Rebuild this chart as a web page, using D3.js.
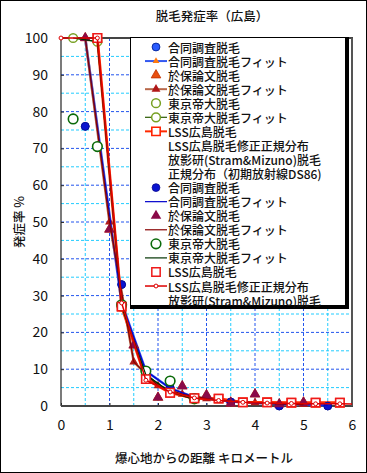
<!DOCTYPE html>
<html>
<head>
<meta charset="utf-8">
<script src="https://cdn.jsdelivr.net/npm/d3@7"></script>
<style>
  body { margin: 0; background: #fff; }
  text { font-family: "Noto Sans CJK JP", "Noto Sans", sans-serif; fill: #111; }
</style>
</head>
<body>
<div id="chart"></div>
<script>
// ---- data ----
const xTicks = [0, 1, 2, 3, 4, 5, 6];
const yTicks = [0, 10, 20, 30, 40, 50, 60, 70, 80, 90, 100];
const xMinor = [0.5, 1.5, 2.5, 3.5, 4.5, 5.5];
const yMinor = [5, 15, 25, 35, 45, 55, 65, 75, 85, 95];

// 合同調査
const jointX = [0.5, 1.25, 2.25, 3.5, 4.5, 5.5];
const jointRate = [76, 33, 5, 1.1, 0, 0];
const jointFitX = [0.5, 1.25, 1.75, 2.25, 2.75, 3.5, 4.5, 5.5];
const jointFit = [100, 28, 9.5, 4.8, 2.4, 1.2, 0.5, 0.2];

// 於保論文
const ohoX = [0.5, 1, 1.5, 2, 2.5, 3, 3.5, 4, 4.5, 5];
const ohoRate = [100, 48, 16.5, 2.3, 5.4, 3.0, 0.7, 3.2, 0.5, 1.0];
const ohoFit = [100, 50, 12, 5.5, 3.2, 2, 1.3, 0.9, 0.6, 0.4];

// 東京帝大
const tokyoX = [0.25, 0.75, 1.25, 1.75, 2.25, 2.75];
const tokyoRate = [78, 70.5, 27.5, 9.5, 6.8, 2.0];
const tokyoFit = [100, 99, 27, 8.5, 3.8, 1.8];

// LSS広島
const lssX = [0.75, 1.25, 1.75, 2.25, 2.75, 3.25, 3.75, 4.25, 4.75, 5.25, 5.75];
const lssRate = [100, 27, 7.3, 3.6, 2.1, 2.0, 1.0, 1.0, 0.9, 0.9, 0.9];
const lssNormX = [0, 0.75, 1.25, 1.75, 2.25, 2.75, 3.25, 3.75, 4.25, 4.75, 5.25, 5.75, 6.25];
const lssNorm = [100, 100, 28, 7, 3.8, 2.2, 1.5, 1.0, 0.8, 0.7, 0.6, 0.6, 0.5];

const width = 367, height = 473;
const plot = { left: 61, right: 352, top: 38, bottom: 406 };

let svg = d3.select("#chart").append("svg")
    .attr("width", width)
    .attr("height", height);

// outer frame
svg.append("rect")
    .attr("x", 0.5).attr("y", 0.5)
    .attr("width", width - 1).attr("height", height - 1)
    .attr("fill", "#fff").attr("stroke", "#000");

let x = d3.scaleLinear().domain([0, 6]).range([plot.left, plot.right]);
let y = d3.scaleLinear().domain([0, 100]).range([plot.bottom, plot.top]);

// grid
let grid = svg.append("g");
grid.selectAll(".vminor").data(xMinor).enter().append("line")
    .attr("x1", d => x(d)).attr("x2", d => x(d))
    .attr("y1", plot.top).attr("y2", plot.bottom)
    .attr("stroke", "#22ccff").attr("stroke-dasharray", "3,2");
grid.selectAll(".hminor").data(yMinor).enter().append("line")
    .attr("y1", d => y(d)).attr("y2", d => y(d))
    .attr("x1", plot.left).attr("x2", plot.right)
    .attr("stroke", "#22ccff").attr("stroke-dasharray", "3,2");
grid.selectAll(".vmajor").data(xTicks.slice(1, -1)).enter().append("line")
    .attr("x1", d => x(d)).attr("x2", d => x(d))
    .attr("y1", plot.top).attr("y2", plot.bottom)
    .attr("stroke", "#2255ee").attr("stroke-dasharray", "3,2");
grid.selectAll(".hmajor").data(yTicks.slice(1, -1)).enter().append("line")
    .attr("y1", d => y(d)).attr("y2", d => y(d))
    .attr("x1", plot.left).attr("x2", plot.right)
    .attr("stroke", "#2255ee").attr("stroke-dasharray", "3,2");

// axes
let yAxis = svg.append("g")
    .attr("transform", `translate(${plot.left}, 0)`)
    .call(d3.axisLeft(y).tickValues(yTicks).tickFormat(d3.format("d"))
        .tickSizeInner(-3).tickSizeOuter(0).tickPadding(13));
let xAxis = svg.append("g")
    .attr("transform", `translate(0, ${plot.bottom})`)
    .call(d3.axisBottom(x).tickValues(xTicks).tickFormat(d3.format("d"))
        .tickSizeInner(-3).tickSizeOuter(0).tickPadding(14));
[yAxis, xAxis].forEach(a => {
    a.selectAll("text").style("font-size", "14px").attr("fill", "#111");
    a.select(".domain").remove();
    a.selectAll(".tick line").attr("stroke", "#333");
});

// frame of plot area
svg.append("line").attr("x1", plot.left).attr("x2", plot.left)
    .attr("y1", plot.top).attr("y2", plot.bottom).attr("stroke", "#222").attr("stroke-width", 1.2);
svg.append("line").attr("x1", plot.left).attr("x2", plot.right + 1)
    .attr("y1", plot.bottom).attr("y2", plot.bottom).attr("stroke", "#444").attr("stroke-width", 2);
svg.append("line").attr("x1", plot.left).attr("x2", plot.right + 1)
    .attr("y1", plot.top).attr("y2", plot.top).attr("stroke", "#444").attr("stroke-width", 2);
svg.append("line").attr("x1", plot.right).attr("x2", plot.right)
    .attr("y1", plot.top).attr("y2", plot.bottom).attr("stroke", "#555").attr("stroke-width", 2);

// clip for the series
svg.append("clipPath").attr("id", "clip")
    .append("rect")
    .attr("x", plot.left - 12).attr("y", plot.top - 12)
    .attr("width", plot.right - plot.left + 12)
    .attr("height", plot.bottom - plot.top + 24);

let series = svg.append("g").attr("clip-path", "url(#clip)");

// marker path helper
function markerPath(shape, size) {
    if (shape === "circle") return d3.symbol(d3.symbolCircle, size)();
    if (shape === "triangle") return d3.symbol(d3.symbolTriangle, size)();
    if (shape === "square") return d3.symbol(d3.symbolSquare, size)();
    return null;
}

function drawMarker(g, shape, style) {
    g.append("path")
        .attr("d", markerPath(shape, style.size))
        .attr("fill", style.fill)
        .attr("stroke", style.stroke || "none")
        .attr("stroke-width", style.sw || 1);
}

function drawSeries(xs, ys, opt) {
    let pts = xs.map((d, i) => [d, ys[i]]);
    if (opt.line) {
        series.append("path")
            .datum(pts)
            .attr("fill", "none")
            .attr("stroke", opt.line.color)
            .attr("stroke-width", opt.line.width)
            .attr("stroke-linejoin", "round")
            .attr("d", d3.line().x(d => x(d[0])).y(d => y(d[1])));
    }
    if (opt.marker) {
        pts.forEach(p => {
            let g = series.append("g").attr("transform", `translate(${x(p[0])}, ${y(p[1])})`);
            drawMarker(g, opt.marker.shape, opt.marker);
        });
    }
}

// styles
const st = {
    jointDot1: { shape: "circle", size: 48, fill: "#2a5cff", stroke: "#0a2aa0", sw: 1 },
    jointFitLine1: { color: "#3358f0", width: 2.5 },
    jointFitMark1: { shape: "triangle", size: 20, fill: "#ff7a10" },
    ohoTri1: { shape: "triangle", size: 40, fill: "#e85010", stroke: "#c03000", sw: 0.8 },
    ohoFitLine1: { color: "#b8684a", width: 2.5 },
    ohoFitMark1: { shape: "triangle", size: 34, fill: "#b01818" },
    tokyoCirc1: { shape: "circle", size: 60, fill: "#fff", stroke: "#77a022", sw: 1.5 },
    tokyoFitLine1: { color: "#2a5a00", width: 1.2 },
    lssLine1: { color: "#ff2a00", width: 2.8 },
    lssSq1: { shape: "square", size: 70, fill: "#fff", stroke: "#ff2200", sw: 1.6 },
    jointDot2: { shape: "circle", size: 48, fill: "#0a14d0", stroke: "#0a0a90", sw: 0.8 },
    jointFitLine2: { color: "#0000cc", width: 1.2 },
    ohoTri2: { shape: "triangle", size: 48, fill: "#8a0a48" },
    ohoFitLine2: { color: "#880000", width: 1.2 },
    tokyoCirc2: { shape: "circle", size: 72, fill: "#fff", stroke: "#0a6a0a", sw: 1.6 },
    tokyoFitLine2: { color: "#003300", width: 1.2 },
    lssSq2: { shape: "square", size: 70, fill: "#fff", stroke: "#ee1a1a", sw: 1.5 },
    lssNormLine: { color: "#dd0000", width: 1.5 },
    lssNormMark: { shape: "circle", size: 12, fill: "#fff", stroke: "#dd0000", sw: 1 }
};

// first set
drawSeries(jointX, jointRate, { marker: st.jointDot1 });
drawSeries(jointFitX, jointFit, { line: st.jointFitLine1, marker: st.jointFitMark1 });
drawSeries(ohoX, ohoRate, { marker: st.ohoTri1 });
drawSeries(ohoX, ohoFit, { line: st.ohoFitLine1, marker: st.ohoFitMark1 });
drawSeries(tokyoX, tokyoRate, { marker: st.tokyoCirc1 });
drawSeries(tokyoX, tokyoFit, { line: st.tokyoFitLine1, marker: st.tokyoCirc1 });
drawSeries(lssX, lssRate, { line: st.lssLine1, marker: st.lssSq1 });
// second set
drawSeries(jointX, jointRate, { marker: st.jointDot2 });
drawSeries(jointFitX, jointFit, { line: st.jointFitLine2 });
drawSeries(ohoX, ohoRate, { marker: st.ohoTri2 });
drawSeries(ohoX, ohoFit, { line: st.ohoFitLine2 });
drawSeries(tokyoX, tokyoRate, { marker: st.tokyoCirc2 });
drawSeries(tokyoX, tokyoFit, { line: st.tokyoFitLine2 });
drawSeries(lssX, lssRate, { marker: st.lssSq2 });
drawSeries(lssNormX, lssNorm, { line: st.lssNormLine, marker: st.lssNormMark });

// ---- legend ----
const legendItems = [
    ["合同調査脱毛", null, st.jointDot1],
    ["合同調査脱毛フィット", st.jointFitLine1, st.jointFitMark1],
    ["於保論文脱毛", null, st.ohoTri1],
    ["於保論文脱毛フィット", st.ohoFitLine1, st.ohoFitMark1],
    ["東京帝大脱毛", null, st.tokyoCirc1],
    ["東京帝大脱毛フィット", st.tokyoFitLine1, st.tokyoCirc1],
    ["LSS広島脱毛", st.lssLine1, st.lssSq1],
    ["LSS広島脱毛修正正規分布", null, null],
    ["放影研(Stram&Mizuno)脱毛", null, null],
    ["正規分布（初期放射線DS86)", null, null],
    ["合同調査脱毛", null, st.jointDot2],
    ["合同調査脱毛フィット", st.jointFitLine2, null],
    ["於保論文脱毛", null, st.ohoTri2],
    ["於保論文脱毛フィット", st.ohoFitLine2, null],
    ["東京帝大脱毛", null, st.tokyoCirc2],
    ["東京帝大脱毛フィット", st.tokyoFitLine2, null],
    ["LSS広島脱毛", null, st.lssSq2],
    ["LSS広島脱毛修正正規分布", st.lssNormLine, st.lssNormMark],
    ["放影研(Stram&Mizuno)脱毛", null, null]
];

let legend = svg.append("g");
const lg = { x: 130, y: 37, w: 215, h: 268 };
legend.append("rect")
    .attr("x", lg.x + 0.5).attr("y", lg.y + 0.5)
    .attr("width", lg.w).attr("height", lg.h)
    .attr("fill", "#fff").attr("stroke", "#000");
legend.append("rect")
    .attr("x", lg.x + lg.w).attr("y", lg.y)
    .attr("width", 4).attr("height", lg.h + 4).attr("fill", "#000");
legend.append("rect")
    .attr("x", lg.x).attr("y", lg.y + lg.h)
    .attr("width", lg.w + 4).attr("height", 4).attr("fill", "#000");

const rowStep = 14.06;
legendItems.forEach((item, i) => {
    let cy = 47 + i * rowStep;
    if (item[1]) {
        legend.append("line")
            .attr("x1", 145).attr("x2", 167)
            .attr("y1", cy).attr("y2", cy)
            .attr("stroke", item[1].color)
            .attr("stroke-width", Math.min(item[1].width, 2));
    }
    if (item[2]) {
        let g = legend.append("g").attr("transform", `translate(156, ${cy})`);
        drawMarker(g, item[2].shape, item[2]);
    }
    legend.append("text")
        .attr("x", 168).attr("y", cy)
        .attr("dominant-baseline", "central")
        .style("font-size", "12px")
        .style("font-weight", 500)
        .text(item[0]);
});

// title and axis labels
svg.append("text")
    .attr("x", 212).attr("y", 15)
    .attr("text-anchor", "middle")
    .attr("dominant-baseline", "central")
    .style("font-size", "12.5px")
    .style("font-weight", 500)
    .text("脱毛発症率（広島）");

svg.append("text")
    .attr("transform", `translate(18, ${(plot.top + plot.bottom) / 2}) rotate(-90)`)
    .attr("text-anchor", "middle")
    .attr("dominant-baseline", "central")
    .style("font-size", "12.5px")
    .style("font-weight", 500)
    .text("発症率 %");

svg.append("text")
    .attr("x", 204).attr("y", 457)
    .attr("text-anchor", "middle")
    .attr("dominant-baseline", "central")
    .style("font-size", "12.5px")
    .style("font-weight", 500)
    .text("爆心地からの距離 キロメートル");
</script>
</body>
</html>
